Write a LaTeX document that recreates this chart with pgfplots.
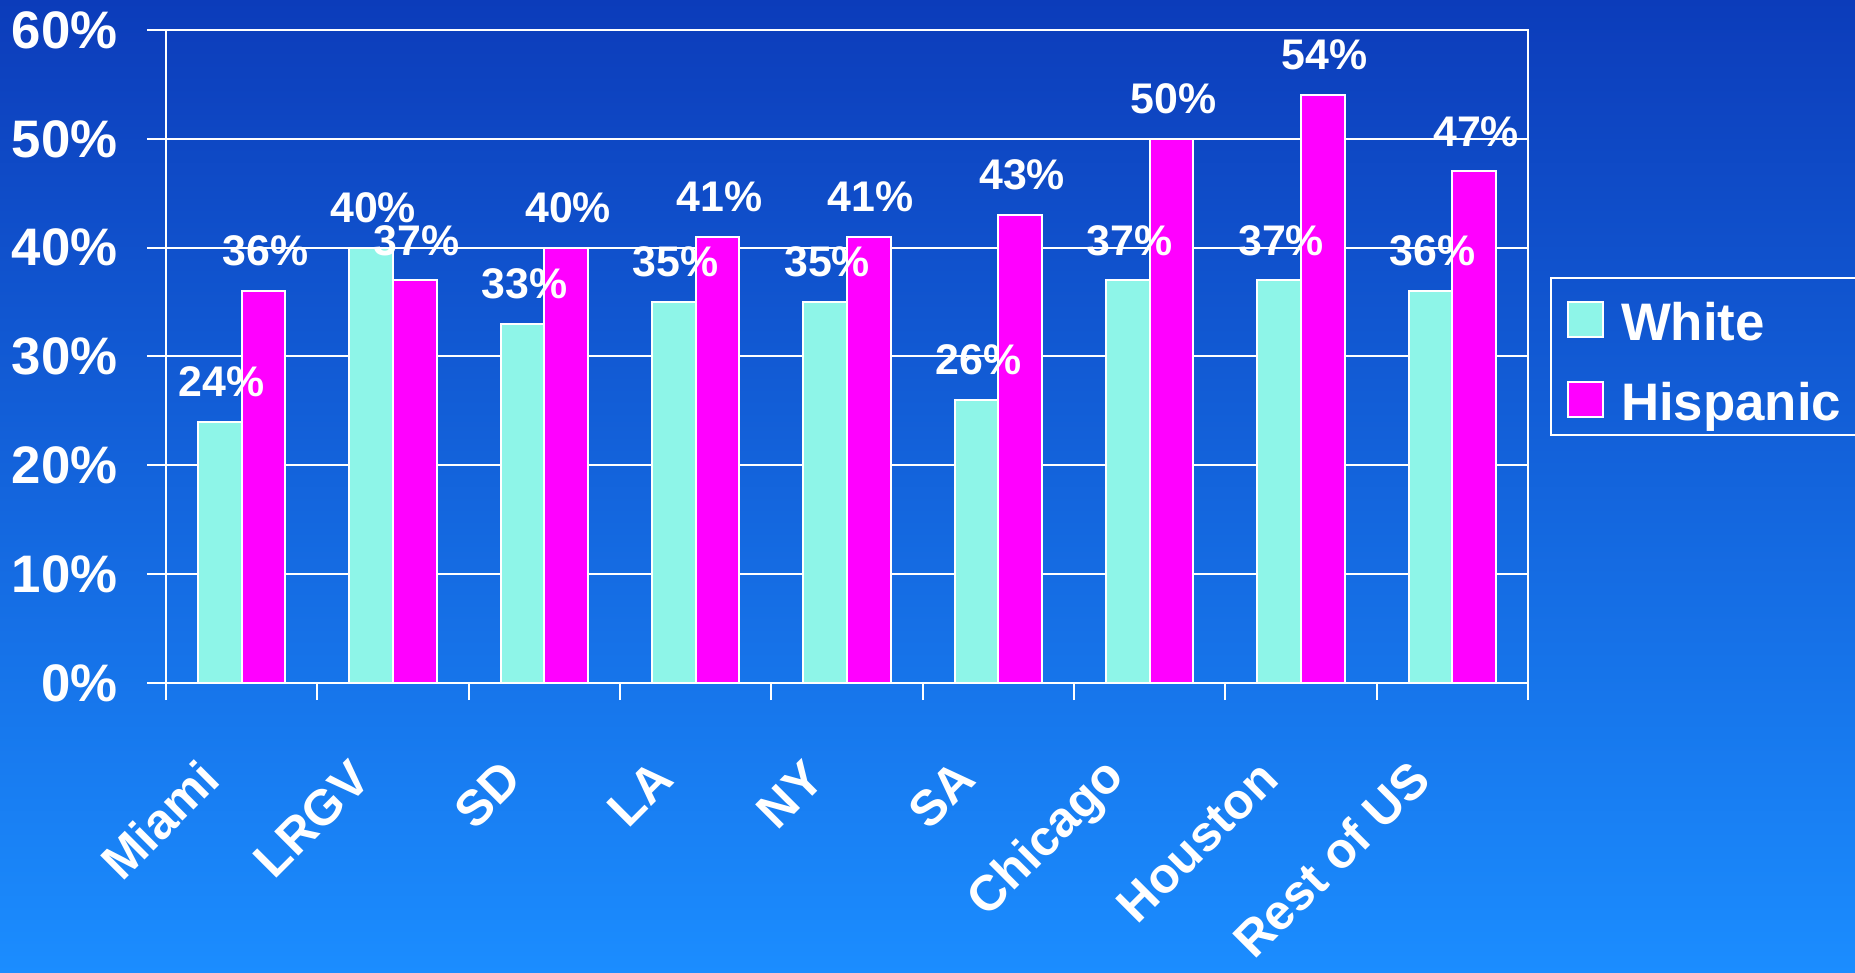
\documentclass[border=0pt]{standalone}
\usepackage{fontspec}
\setmainfont{Liberation Sans}
\usepackage{pgfplots}
\pgfplotsset{compat=1.18}

\definecolor{bgtop}{RGB}{12,60,186}
\definecolor{bgmid}{RGB}{22,110,226}
\definecolor{bgbot}{RGB}{27,141,255}
\definecolor{aqua}{RGB}{142,245,232}
\definecolor{hisp}{RGB}{255,0,255}

\pgfplotsset{sqlegend/.style={legend image code/.code={\draw[##1, draw=white, line width=1bp] (0bp,-10bp) rectangle (17.5bp,7.5bp);}}}

% share of each group, in percent
\pgfplotstableread{
x white hispanic
0 24 36
1 40 37
2 33 40
3 35 41
4 35 41
5 26 43
6 37 50
7 37 54
8 36 47
}\rates

\begin{document}
\begin{tikzpicture}
\path[use as bounding box] (0,0) rectangle (927.5bp,486.5bp);
\shade[top color=bgtop, middle color=bgmid, bottom color=bgbot] (0,0) rectangle (927.5bp,486.5bp);
\begin{axis}[
  at={(83bp,145bp)}, anchor=south west,
  scale only axis, width=681bp, height=326.5bp,
  ymin=0, ymax=60, xmin=-0.5, xmax=8.5,
  clip=false,
  /pgf/number format/assume math mode=true,
  axis line style={white, line width=1bp},
  every tick/.style={white, line width=1bp},
  tick align=outside, tick pos=left,
  major tick length=9.5bp, minor tick length=8.5bp,
  ymajorgrids, grid style={white, line width=1bp},
  ytick={0,10,...,60},
  yticklabel={\pgfmathprintnumber{\tick}\%},
  yticklabel style={text=white, font=\fontsize{26.5}{26.5}\selectfont\bfseries, inner sep=0pt, xshift=-14.5bp},
  xtick={0,1,...,8},
  xticklabels={Miami,LRGV,SD,LA,NY,SA,Chicago,Houston,Rest of US},
  major x tick style={draw=none},
  minor xtick={-0.5,0.5,...,8.5},
  xticklabel style={text=white, font=\fontsize{25}{25}\selectfont\bfseries, inner sep=0pt, xshift=-16bp, yshift=-34bp, rotate=45, anchor=east},
  ybar, bar width=0.289,
  every node near coord/.append style={text=white, font=\fontsize{21.5}{21.5}\selectfont\bfseries, anchor=center, yshift=20bp, xshift=1bp},
  legend style={at={(1.0162,0.6217)}, anchor=north west, draw=white, line width=1bp, fill=none,
    text=white, font=\fontsize{26.5}{26.5}\selectfont\bfseries,
    inner xsep=8bp, inner ysep=0bp, column sep=8.5bp, row sep=1.5bp, cells={anchor=west},
    nodes={inner sep=0pt, text height=23.5bp, text depth=0pt, minimum height=38.5bp}},
]
\addplot[fill=aqua, draw=white, line width=1bp, bar shift=-0.1445, sqlegend]
  table[x=x, y=white] {\rates};
\addlegendentry{White\hspace{20bp}}
\addplot[fill=hisp, draw=white, line width=1bp, bar shift=0.1445, sqlegend]
  table[x=x, y=hispanic] {\rates};
\addlegendentry{Hispanic\hspace{20bp}}
% value labels, drawn after both series so they sit on top
\addplot[draw=none, fill=none, bar shift=-0.1445, forget plot,
  nodes near coords={\pgfmathprintnumber{\pgfplotspointmeta}\%}]
  table[x=x, y=white] {\rates};
\addplot[draw=none, fill=none, bar shift=0.1445, forget plot,
  nodes near coords={\pgfmathprintnumber{\pgfplotspointmeta}\%}]
  table[x=x, y=hispanic] {\rates};
\end{axis}
\end{tikzpicture}
\end{document}
